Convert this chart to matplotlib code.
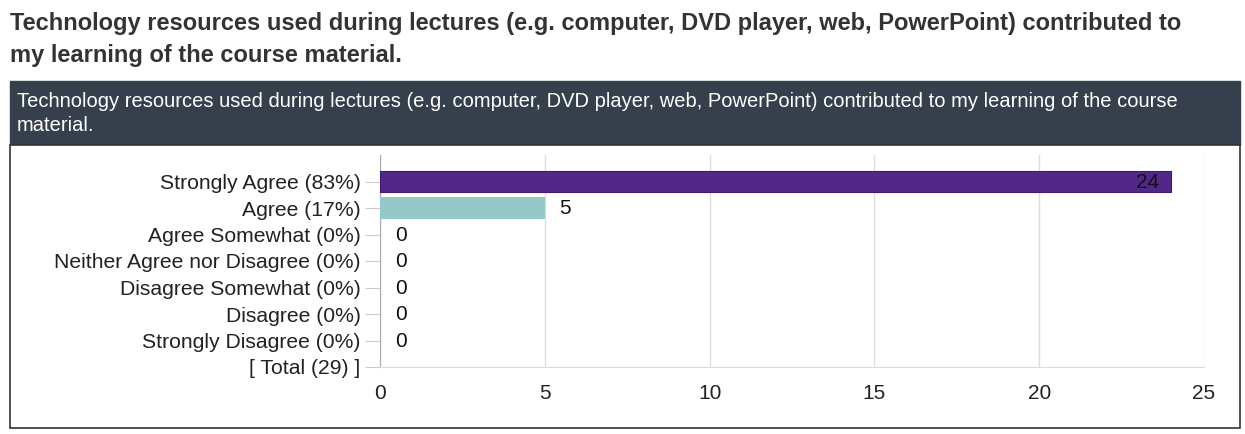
import matplotlib.pyplot as plt
from matplotlib.patches import Rectangle

question = ("Technology resources used during lectures (e.g. computer, DVD player, web, PowerPoint) "
            "contributed to\nmy learning of the course material.")
header = ("Technology resources used during lectures (e.g. computer, DVD player, web, PowerPoint) "
          "contributed to my learning of the course\nmaterial.")
categories = ["Strongly Agree (83%)", "Agree (17%)", "Agree Somewhat (0%)",
              "Neither Agree nor Disagree (0%)", "Disagree Somewhat (0%)",
              "Disagree (0%)", "Strongly Disagree (0%)", "[ Total (29) ]"]
counts = [24, 5, 0, 0, 0, 0, 0]
colors = ["#512888", "#95c8c8", "#95c8c8", "#95c8c8", "#95c8c8", "#95c8c8", "#95c8c8"]
xticks = [0, 5, 10, 15, 20, 25]

W, H = 1245, 434
fig = plt.figure(figsize=(W / 100, H / 100), dpi=100)
plt.rcParams['font.family'] = ['Liberation Sans', 'DejaVu Sans']

# page title
fig.text(10 / W, 1 - 12 / H, question, fontsize=17, fontweight='bold', color='#333333',
         va='top', ha='left', linespacing=1.5)

# panel: dark header bar + white box
fig.patches.append(Rectangle((10 / W, 1 - 145 / H), 1230 / W, 64 / H, transform=fig.transFigure,
                             facecolor='#36404c', edgecolor='#36404c', zorder=0))
fig.patches.append(Rectangle((10 / W, 1 - 428 / H), 1230 / W, 283 / H, transform=fig.transFigure,
                             facecolor='white', edgecolor='#333333', linewidth=1.2, zorder=0))
fig.text(17 / W, 1 - 92 / H, header, fontsize=14.5, color='white', va='top', ha='left',
         linespacing=1.35)

# chart area
ax = fig.add_axes([380 / W, 1 - 367 / H, (1204 - 380) / W, (367 - 155) / H])
ax.set_zorder(5)
ypos = list(range(len(counts)))
bars = ax.barh(ypos, counts, height=0.8, color=colors, linewidth=0, zorder=3)
bars[0].set_edgecolor('#3e1a70')
bars[0].set_linewidth(0.8)
ax.set_ylim(7, -1)
ax.set_xlim(0, 25)
ax.set_yticks(range(len(categories)))
ax.set_yticklabels(categories, fontsize=15.2, color='#222222')
ax.set_xticks(xticks)
ax.set_xticklabels([str(t) for t in xticks], fontsize=15, color='#222222')
ax.tick_params(axis='y', length=11, color='#cccccc', pad=3)
ax.tick_params(axis='x', length=0, pad=12)
ax.grid(axis='x', color='#dddddd', linewidth=1, zorder=0)
for s in ['top', 'right']:
    ax.spines[s].set_visible(False)
ax.spines['left'].set_color('#aaaaaa')
ax.spines['bottom'].set_color('#dddddd')
ax.set_facecolor('none')

for y, v in zip(ypos, counts):
    if v >= 20:
        ax.text(v - 0.35, y + 0.03, str(v), ha='right', va='center', fontsize=15, color='#111111', zorder=4)
    else:
        ax.text(v + 0.45, y + 0.03, str(v), ha='left', va='center', fontsize=15, color='#111111', zorder=4)

fig.savefig('out.png', dpi=100)
